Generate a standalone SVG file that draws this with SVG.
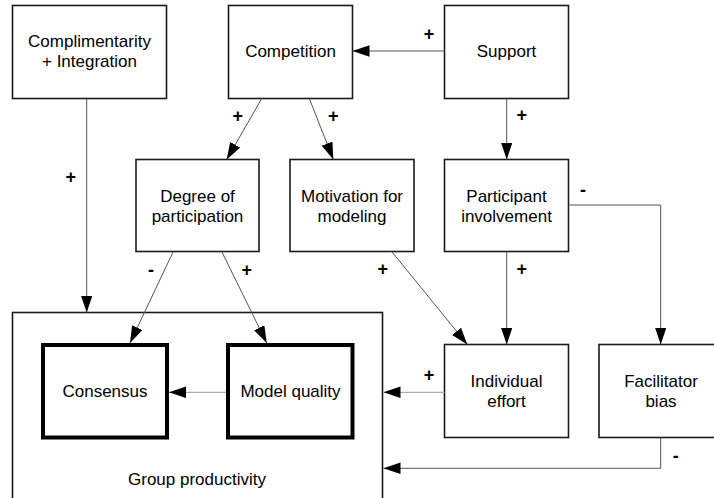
<svg xmlns="http://www.w3.org/2000/svg" width="714" height="498" viewBox="0 0 714 498">
<style>
  .box{fill:#fff;stroke:#1a1a1a;stroke-width:1.6}
  .thick{fill:#fff;stroke:#000;stroke-width:4}
  .t{font-family:"Liberation Sans",Arial,sans-serif;font-size:17px;fill:#000;text-anchor:middle}
  .l{font-family:"Liberation Sans",Arial,sans-serif;font-size:18px;font-weight:bold;fill:#000;text-anchor:middle}
  .c{fill:none;stroke:#555;stroke-width:1}
  .cl{fill:none;stroke:#aaa;stroke-width:1.2}
</style>
<defs>
  <marker id="ah" markerUnits="userSpaceOnUse" markerWidth="18" markerHeight="12" refX="17" refY="5.75" orient="auto">
    <path d="M0,0 L17,5.75 L0,11.5 z" fill="#000"/>
  </marker>
</defs>
<rect width="714" height="498" fill="#fff"/>

<g id="group-productivity">
  <rect class="box" x="12.5" y="312.5" width="370" height="200"/>
  <text class="t" x="197" y="485">Group productivity</text>
</g>
<g id="complimentarity">
  <rect class="box" x="12.5" y="5.5" width="154" height="93"/>
  <text class="t" x="89.5" y="47">Complimentarity</text>
  <text class="t" x="89.5" y="67">+ Integration</text>
</g>
<g id="competition">
  <rect class="box" x="228.5" y="5.5" width="124" height="93"/>
  <text class="t" x="290.5" y="57">Competition</text>
</g>
<g id="support">
  <rect class="box" x="444.5" y="5.5" width="124" height="93"/>
  <text class="t" x="506.5" y="57">Support</text>
</g>
<g id="degree">
  <rect class="box" x="136" y="159.5" width="123" height="92"/>
  <text class="t" x="197.5" y="201.5">Degree of</text>
  <text class="t" x="197.5" y="221.5">participation</text>
</g>
<g id="motivation">
  <rect class="box" x="290" y="159.5" width="124" height="92"/>
  <text class="t" x="352" y="201.5">Motivation for</text>
  <text class="t" x="352" y="221.5">modeling</text>
</g>
<g id="participant">
  <rect class="box" x="444.5" y="159.5" width="124" height="92"/>
  <text class="t" x="506.5" y="201.5">Participant</text>
  <text class="t" x="506.5" y="221.5">involvement</text>
</g>
<g id="individual">
  <rect class="box" x="444.5" y="344.5" width="124" height="93"/>
  <text class="t" x="506.5" y="386.5">Individual</text>
  <text class="t" x="506.5" y="406.5">effort</text>
</g>
<g id="facilitator">
  <rect class="box" x="599" y="344.5" width="124" height="93"/>
  <text class="t" x="661" y="386.5">Facilitator</text>
  <text class="t" x="661" y="406.5">bias</text>
</g>
<g id="consensus">
  <rect class="thick" x="43" y="345" width="124" height="92.5"/>
  <text class="t" x="105" y="397">Consensus</text>
</g>
<g id="model-quality">
  <rect class="thick" x="228" y="345" width="124.5" height="92.5"/>
  <text class="t" x="290.5" y="397">Model quality</text>
</g>

<g id="connectors">
  <line class="c" x1="444.5" y1="51" x2="352.5" y2="51" marker-end="url(#ah)"/>
  <line class="c" x1="261.7" y1="98.5" x2="226.7" y2="159.5" marker-end="url(#ah)"/>
  <line class="c" x1="309.3" y1="98.5" x2="333.3" y2="159.5" marker-end="url(#ah)"/>
  <line class="c" x1="506.7" y1="98.5" x2="506.7" y2="159.5" marker-end="url(#ah)"/>
  <line class="c" x1="86.7" y1="98.5" x2="86.7" y2="312.5" marker-end="url(#ah)"/>
  <polyline class="c" points="568.5,205 660.7,205 660.7,344.5" marker-end="url(#ah)"/>
  <line class="c" x1="506.7" y1="251.5" x2="506.7" y2="344.5" marker-end="url(#ah)"/>
  <line class="c" x1="391.7" y1="251.5" x2="467.3" y2="344.5" marker-end="url(#ah)"/>
  <line class="c" x1="173.3" y1="251.5" x2="130" y2="343" marker-end="url(#ah)"/>
  <line class="c" x1="221.7" y1="251.5" x2="266.7" y2="343" marker-end="url(#ah)"/>
  <line class="cl" x1="226" y1="392.3" x2="169" y2="392.3" marker-end="url(#ah)"/>
  <line class="cl" x1="444.5" y1="392.3" x2="383.5" y2="392.3" marker-end="url(#ah)"/>
  <polyline class="c" points="660.7,437.5 660.7,468.3 383.5,468.3" marker-end="url(#ah)"/>

  <text class="l" x="429" y="40">+</text>
  <text class="l" x="237.7" y="121.5">+</text>
  <text class="l" x="333.3" y="121.5">+</text>
  <text class="l" x="521.7" y="121">+</text>
  <text class="l" x="70.7" y="182.5">+</text>
  <text class="l" x="583" y="196">-</text>
  <text class="l" x="382.7" y="275">+</text>
  <text class="l" x="521.7" y="275">+</text>
  <text class="l" x="151" y="276">-</text>
  <text class="l" x="246.7" y="276">+</text>
  <text class="l" x="429" y="381">+</text>
  <text class="l" x="675.7" y="462">-</text>
</g>
</svg>
